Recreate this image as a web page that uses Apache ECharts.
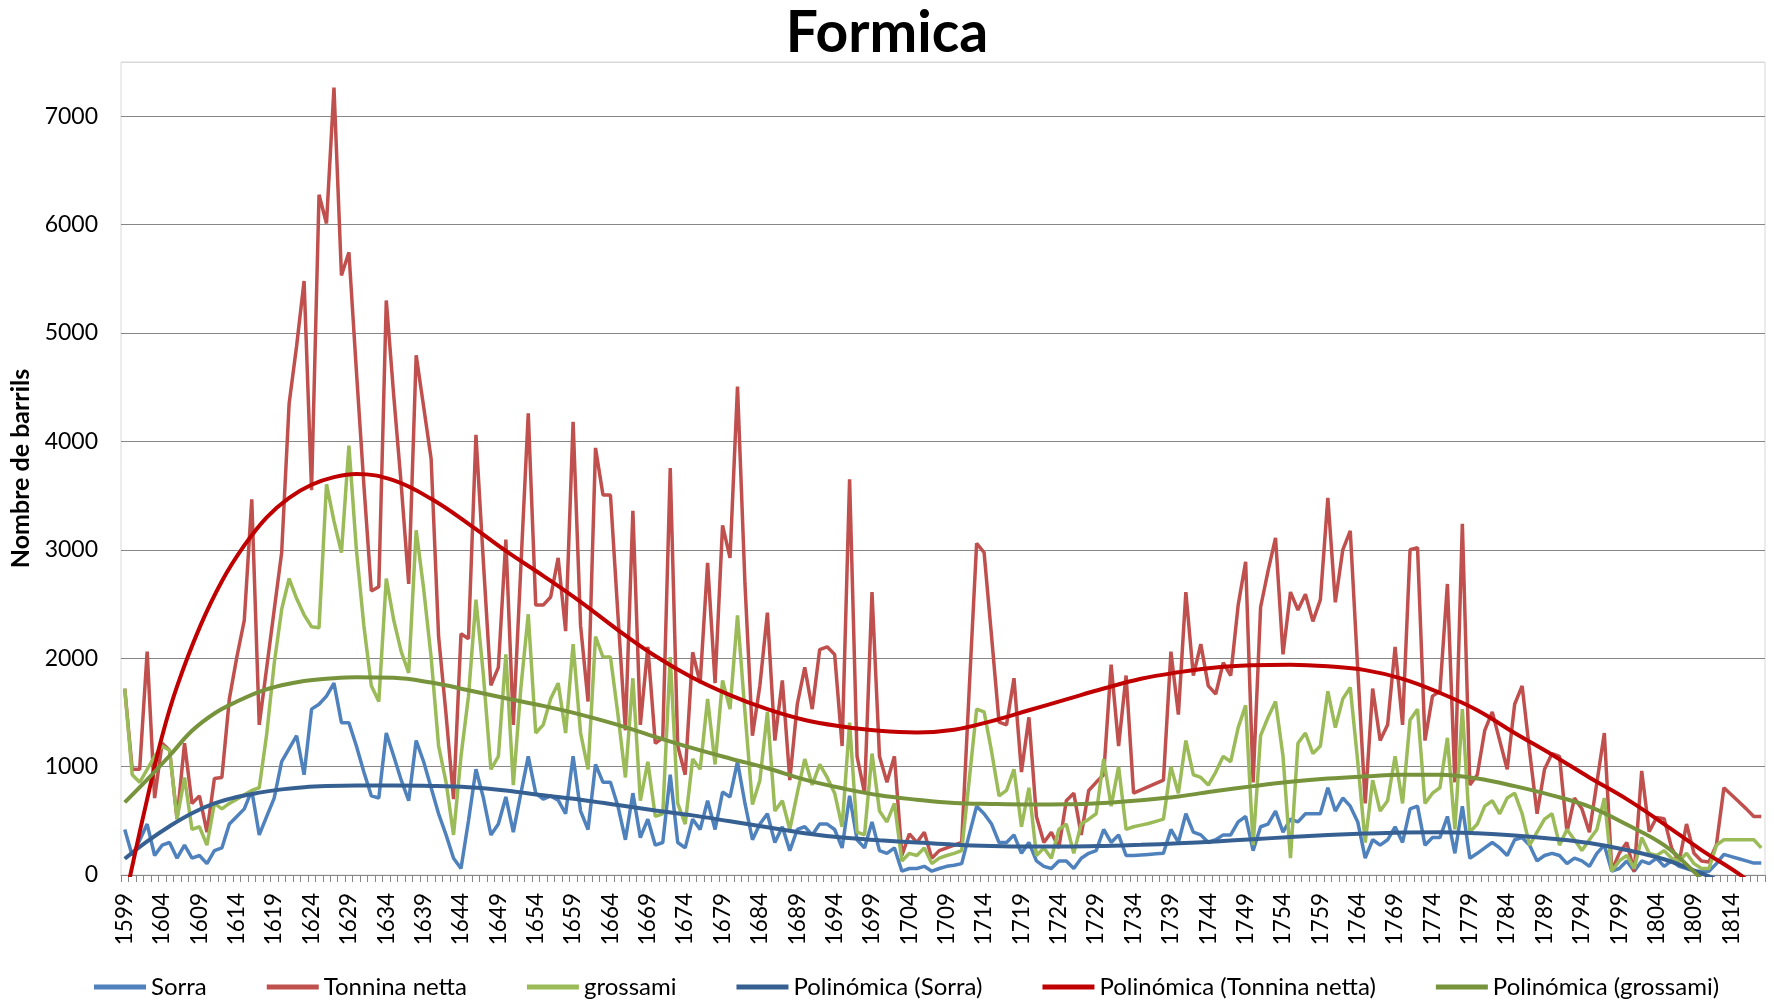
<!DOCTYPE html>
<html>
<head>
<meta charset="utf-8">
<script src="https://cdn.jsdelivr.net/npm/echarts@6/dist/echarts.min.js"></script>
<style>
html,body{margin:0;padding:0;background:#fff;}
#chart{width:1774px;height:1003px;}
</style>
</head>
<body>
<div id="chart"></div>
<script>
// Years 1599..1818
var firstYear = 1599;
var lastYear = 1818;
var years = [];
for (var y = firstYear; y <= lastYear; y++) years.push(String(y));

var sorra = [
420,180,320,470,180,275,300,155,275,155, 180,105,225,250,470,540,610,780,370,540,
710,1045,1165,1285,925,1530,1575,1650,1770,1405, 1405,1190,950,730,710,1310,1095,875,685,1240,
1045,805,565,370,155,60,500,975,710,370, 470,720,395,750,1095,755,700,730,690,565,
1095,590,420,1020,855,855,635,325,755,345, 515,275,300,925,300,250,515,420,685,420,
765,720,1045,660,325,470,565,300,445,225, 420,445,370,470,470,420,250,730,325,250,
490,225,200,250,35,60,60,80,35,60, 80,90,105,370,635,565,470,300,300,370,
200,300,130,80,60,130,130,60,155,200, 225,420,300,370,180,180,185,190,195,200,
420,300,565,395,370,300,325,370,370,490, 540,225,445,470,590,395,515,490,565,565,
565,805,590,710,635,490,155,325,275,325, 445,300,610,635,275,345,345,540,200,635,
155,200,250,300,250,180,325,345,275,130, 180,200,180,105,155,130,80,200,275,35,
60,130,35,130,105,155,80,130,80,60, 35,35,35,105,190,170,150,130,110,110
];

var tonnina = [
1720,975,975,2060,710,1215,1150,515,1215,660, 730,395,890,900,1625,2010,2350,3465,1385,1915,
2445,2975,4350,4880,5480,3550,6275,6010,7265,5530, 5745,4650,3600,2620,2660,5300,4420,3600,2685,4795,
4320,3840,2200,1480,700,2225,2180,4060,2880,1750, 1915,3095,1385,2830,4260,2490,2490,2565,2925,2250,
4180,2300,1600,3940,3505,3505,2400,1335,3360,1385, 2105,1215,1265,3755,1190,925,2055,1770,2880,1770,
3225,2925,4505,2685,1285,1750,2420,1240,1795,875, 1575,1915,1530,2080,2105,2035,1190,3650,1095,755,
2610,1095,855,1095,180,380,300,395,155,225, 250,275,300,1700,3060,2975,2200,1410,1385,1815,
950,1455,540,300,395,250,685,755,370,780, 855,925,1940,1190,1840,755,785,815,845,875,
2060,1480,2610,1840,2130,1745,1670,1960,1840,2490, 2890,855,2470,2805,3110,2035,2610,2445,2590,2340,
2540,3480,2515,3000,3175,1900,660,1720,1240,1385, 2105,1385,3000,3020,1240,1650,1695,2685,855,3240,
830,925,1335,1505,1240,975,1575,1745,1140,565, 975,1120,1095,395,710,610,395,850,1310,40,
200,300,30,960,400,530,520,250,120,470, 200,130,120,280,805,740,675,610,540,540
];

var grossami = [
1720,925,855,975,1095,1190,1150,515,900,420, 445,275,660,610,660,700,740,780,805,1300,
1950,2450,2735,2550,2400,2290,2280,3605,3265,2975, 3960,3000,2300,1745,1600,2735,2350,2060,1865,3180,
2640,2010,1190,855,370,1095,1650,2540,1840,975, 1095,2035,830,1720,2405,1310,1385,1625,1770,1310,
2130,1310,975,2200,2010,2010,1480,900,1815,685, 1045,540,565,2010,660,470,1070,975,1625,1020,
1795,1530,2395,1500,650,875,1505,590,685,420, 755,1070,830,1020,900,755,445,1405,395,370,
1120,590,490,660,130,200,180,250,105,155, 180,200,225,870,1530,1505,1140,730,780,975,
445,805,180,250,155,420,470,200,470,515, 565,1070,635,1000,420,445,460,475,495,515,
1000,755,1240,925,900,830,950,1095,1045,1360, 1565,275,1285,1455,1600,1095,155,1215,1310,1120,
1190,1695,1360,1625,1730,1045,300,875,590,685, 1095,660,1430,1530,660,755,805,1265,420,1530,
395,470,635,685,565,710,755,565,275,395, 515,565,275,420,325,225,325,420,710,35,
130,180,60,345,200,180,225,155,130,200, 105,60,60,275,325,325,325,325,325,250
];

// Polynomial trend curves at sample years
var trendYearsSorra = [1599,1602,1605,1608,1611,1614,1617,1620,1623,1626,1630,1635,1640,1645,1650,1655,1660,1665,1670,1675,1680,1685,1690,1695,1700,1705,1710,1715,1720,1725,1730,1735,1740,1745,1750,1755,1760,1765,1770,1775,1780,1785,1790,1795,1800,1805,1810,1812];
var trendSorra = [150,310,450,570,660,720,760,790,810,820,825,825,822,810,780,735,695,645,595,550,495,440,385,345,320,300,280,268,263,263,268,278,292,310,330,350,368,382,392,395,385,365,335,295,230,145,15,-40];

var trendYearsTonnina = [1599,1600,1602,1604,1606,1609,1612,1615,1618,1621,1624,1627,1630,1635,1640,1645,1650,1655,1660,1665,1670,1675,1680,1685,1690,1695,1700,1705,1710,1715,1720,1725,1730,1735,1740,1745,1750,1755,1760,1765,1770,1775,1780,1785,1790,1795,1800,1805,1810,1815,1818];
var trendTonnina = [-250,80,700,1280,1740,2280,2710,3040,3300,3480,3600,3670,3700,3640,3470,3240,2990,2760,2520,2260,2020,1820,1660,1530,1430,1370,1330,1315,1340,1420,1520,1620,1720,1810,1870,1915,1935,1940,1925,1890,1810,1680,1520,1310,1110,900,700,470,230,10,-150];

var trendYearsGrossami = [1599,1602,1605,1608,1611,1614,1617,1620,1623,1626,1630,1635,1640,1645,1650,1655,1660,1665,1670,1675,1680,1685,1690,1695,1700,1705,1710,1715,1720,1725,1730,1735,1740,1745,1750,1755,1760,1765,1770,1775,1780,1785,1790,1795,1800,1805,1809,1811];
var trendGrossami = [670,880,1100,1330,1490,1600,1690,1750,1790,1810,1825,1820,1775,1705,1630,1560,1480,1385,1275,1170,1075,985,880,800,735,695,665,655,650,652,665,690,725,775,820,860,890,910,925,925,890,820,735,630,465,275,30,-120];

var yTicks = [0,1000,2000,3000,4000,5000,6000,7000];

function pairs(ys, vals) {
  return ys.map(function (yr, k) { return [years.indexOf(String(yr)), vals[k]]; });
}

var chart = echarts.init(document.getElementById('chart'), null, {renderer: 'canvas'});
var FONT = 'Lato';

function dataLine(name, color, data) {
  return {
    name: name, type: 'line', data: data, symbol: 'none', showSymbol: false,
    lineStyle: {color: color, width: 3.5}, itemStyle: {color: color},
    emphasis: {disabled: true}, animation: false
  };
}
function trendLine(name, color, data) {
  return {
    name: name, type: 'line', data: data, symbol: 'none', showSymbol: false,
    smooth: 0.4, connectNulls: true, clip: true,
    lineStyle: {color: color, width: 4}, itemStyle: {color: color},
    emphasis: {disabled: true}, animation: false, z: 3
  };
}

chart.setOption({
  backgroundColor: '#ffffff',
  animation: false,
  textStyle: {fontFamily: FONT},
  title: {
    text: 'Formica', left: 'center', top: 0,
    textStyle: {fontFamily: FONT, fontWeight: 'bold', fontSize: 57, color: '#000'}
  },
  grid: {
    left: 121, right: 9, top: 62, bottom: 128,
    show: true, borderColor: '#D9D9D9', borderWidth: 1, containLabel: false
  },
  legend: {
    left: 89, top: 970, itemGap: 60, itemWidth: 52, itemHeight: 5, icon: 'rect',
    textStyle: {fontFamily: FONT, fontSize: 24, color: '#000'},
    data: ['Sorra', 'Tonnina netta', 'grossami', 'Polinómica (Sorra)', 'Polinómica (Tonnina netta)', 'Polinómica (grossami)']
  },
  xAxis: {
    type: 'category', data: years, boundaryGap: true,
    axisLine: {lineStyle: {color: '#868686', width: 1}},
    axisTick: {show: true, interval: 0, length: 7, lineStyle: {color: '#868686'}},
    axisLabel: {interval: 4, rotate: 90, margin: 18, fontSize: 22.5, color: '#000', fontFamily: FONT}
  },
  yAxis: {
    type: 'value', min: 0, max: 7500, interval: 1000,
    name: 'Nombre de barrils', nameLocation: 'middle', nameGap: 81, nameRotate: 90,
    nameTextStyle: {fontFamily: FONT, fontWeight: 'bold', fontSize: 25, color: '#000'},
    axisLine: {show: false}, axisTick: {show: false},
    axisLabel: {
      fontSize: 23, color: '#000', fontFamily: FONT, margin: 23,
      formatter: function (v) { return yTicks.indexOf(v) >= 0 ? String(v) : ''; }
    },
    splitLine: {lineStyle: {color: ['#868686','#868686','#868686','#868686','#868686','#868686','#868686','#868686','#D9D9D9'], width: 1}}
  },
  series: [
    dataLine('Sorra', '#4F81BD', sorra),
    dataLine('Tonnina netta', '#C0504D', tonnina),
    dataLine('grossami', '#9BBB59', grossami),
    trendLine('Polinómica (Sorra)', '#376092', pairs(trendYearsSorra, trendSorra)),
    trendLine('Polinómica (Tonnina netta)', '#C00000', pairs(trendYearsTonnina, trendTonnina)),
    trendLine('Polinómica (grossami)', '#77933C', pairs(trendYearsGrossami, trendGrossami))
  ]
});
</script>
</body>
</html>
